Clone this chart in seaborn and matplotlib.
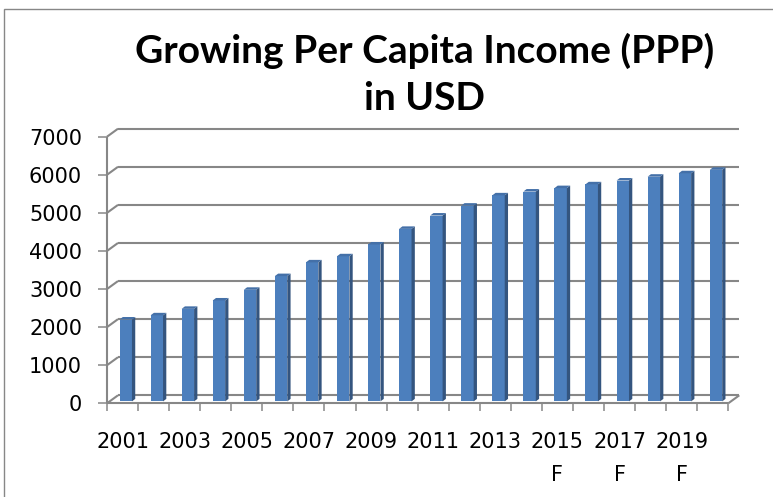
import matplotlib
matplotlib.use("Agg")
import matplotlib.pyplot as plt
import matplotlib.transforms as mtransforms
from matplotlib.patches import Polygon, Rectangle
import pandas as pd
import seaborn as sns

# ---- data -------------------------------------------------------------
years = [str(y) for y in range(2001, 2021)]
income = [2150, 2260, 2430, 2650, 2930, 3290, 3650, 3810, 4120, 4530,
          4880, 5140, 5410, 5510, 5600, 5700, 5800, 5900, 5990, 6080]
year_tick_labels = ["2001", "2003", "2005", "2007", "2009", "2011", "2013",
                    "2015\nF", "2017\nF", "2019\nF"]
y_ticks = [0, 1000, 2000, 3000, 4000, 5000, 6000, 7000]
title_lines = ["Growing Per Capita Income (PPP)", "in USD"]

# ---- styling ----------------------------------------------------------
W, H, DPI = 773, 497, 100
FRONT = "#4C7FBD"
SIDE = "#34557F"
TOP = "#4470A8"
GRID = "#878787"

sns.set_theme(style="white")
plt.rcParams["font.family"] = ["DejaVu Sans"]

fig = plt.figure(figsize=(W / DPI, H / DPI), dpi=DPI)
fig.patch.set_facecolor("white")

# front plane of the plot area, in pixels from the top-left corner
left_px, right_px, base_px, top_px = 107.0, 728.3, 403.3, 136.7
ax = fig.add_axes([left_px / W, (H - base_px) / H,
                   (right_px - left_px) / W, (base_px - top_px) / H])

df = pd.DataFrame({"year": years, "income": income})
sns.barplot(data=df, x="year", y="income", color=FRONT, saturation=1,
            width=0.4, edgecolor="none", ax=ax, zorder=3)

n = len(years)
ymax = y_ticks[-1]
ax.set_xlim(-0.5, n - 0.5)
ax.set_ylim(0, ymax)
ax.set_xlabel("")
ax.set_ylabel("")
for s in ax.spines.values():
    s.set_visible(False)

# pixel -> data unit conversions for the oblique depth effect
px_x = (right_px - left_px) / n          # pixels per category
px_y = (base_px - top_px) / ymax         # pixels per unit value


def dx(px):
    return px / px_x


def dy(px):
    return px / px_y


# walls: back gridlines, left wall diagonals, floor
wall_dx, wall_dy = dx(11.0), dy(8.0)
line_kw = dict(color=GRID, lw=1.5, clip_on=False, zorder=1,
               solid_capstyle="butt")
x0, x1 = -0.5, n - 0.5
for v in y_ticks:
    ax.plot([x0 + wall_dx, x1 + wall_dx], [v + wall_dy, v + wall_dy], **line_kw)
    ax.plot([x0, x0 + wall_dx], [v, v + wall_dy], **line_kw)
ax.plot([x0, x1], [0, 0], **line_kw)
ax.plot([x1, x1 + wall_dx], [0, wall_dy], **line_kw)
ax.plot([x0, x0], [0, ymax], **line_kw)

# bars: shift into the depth of the floor and add side and top faces
bar_shift = mtransforms.ScaledTranslation(3.2 / DPI, 1.9 / DPI,
                                          fig.dpi_scale_trans)
bar_tr = ax.transData + bar_shift
bd_x, bd_y = dx(3.3), dy(2.5)
for p in ax.patches:
    xl = p.get_x()
    xr = xl + p.get_width()
    h = p.get_height()
    p.set_transform(bar_tr)
    p.set_clip_on(False)
    side = Polygon([(xr, 0), (xr + bd_x, bd_y), (xr + bd_x, h + bd_y), (xr, h)],
                   closed=True, facecolor=SIDE, edgecolor="none",
                   transform=bar_tr, clip_on=False, zorder=3)
    top = Polygon([(xl, h), (xr, h), (xr + bd_x, h + bd_y), (xl + bd_x, h + bd_y)],
                  closed=True, facecolor=TOP, edgecolor="none",
                  transform=bar_tr, clip_on=False, zorder=3)
    ax.add_patch(side)
    ax.add_patch(top)

# y axis ticks and labels
ax.set_yticks(y_ticks)
ax.set_yticklabels([str(v) for v in y_ticks])
ax.tick_params(axis="y", which="major", direction="out", length=6.5,
               width=1.1, color=GRID, pad=11.5, labelsize=15,
               labelcolor="black", left=True)

# x axis: ticks on category boundaries, labels on every other year
ax.set_xticks([i - 0.5 for i in range(n + 1)])
ax.set_xticklabels([""] * (n + 1))
ax.set_xticks(list(range(0, n, 2)), minor=True)
ax.set_xticklabels(year_tick_labels, minor=True)
ax.tick_params(axis="x", which="major", direction="out", length=5.5,
               width=1.1, color=GRID, bottom=True)
ax.tick_params(axis="x", which="minor", length=0, pad=20.5, labelsize=15,
               labelcolor="black", bottom=True)
for lbl in ax.get_xticklabels(minor=True):
    lbl.set_linespacing(1.8)

# title
title_kw = dict(ha="center", va="center", fontsize=28, fontweight="bold",
                family=["Lato", "DejaVu Sans"], color="black")
fig.text(425 / W, 1 - 51 / H, title_lines[0], **title_kw)
fig.text(425 / W, 1 - 98 / H, title_lines[1], **title_kw)

# chart frame
fig.add_artist(Rectangle((4 / W, -0.1), 2.0, 1.1 - 9 / H,
                         transform=fig.transFigure, fill=False,
                         edgecolor=GRID, lw=1.0))

fig.savefig("out.png", dpi=DPI, facecolor="white")
